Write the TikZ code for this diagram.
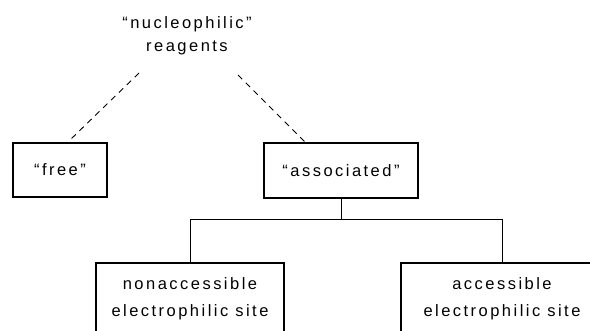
\documentclass[tikz,border=0pt]{standalone}
\usepackage{fontspec}
\setmainfont{Liberation Sans}[LetterSpace=15]
\begin{document}
\begin{tikzpicture}[x=1pt,y=-1pt,
  box/.style={draw, line width=2.1pt, rectangle, inner sep=0pt},
  lbl/.style={font=\fontsize{16.5}{27}\selectfont, align=center, inner sep=0pt},
  conn/.style={line width=0.9pt},
  dconn/.style={line width=0.9pt, dash pattern=on 6pt off 5pt}]
\useasboundingbox (0,0) rectangle (590,330);
\clip (0,0) rectangle (590,330);
\node[lbl, font=\fontsize{16.5}{23}\selectfont] (title) at (187,36) {“nucleophilic”\\reagents};
\node[box, minimum width=94pt, minimum height=54pt] (free) at (60,170) {};
\node[lbl] at (free.center) {“free”};
\node[box, minimum width=154pt, minimum height=55pt] (assoc) at (341,170.5) {};
\node[lbl] at (assoc.center) {“associated”};
\node[box, anchor=north, minimum width=188pt, minimum height=100pt] (nonacc) at (190,262) {};
\node[lbl, anchor=north] at ([yshift=-15pt]nonacc.north) {nonaccessible\\electrophilic site};
\node[box, anchor=north, minimum width=202pt, minimum height=100pt] (acc) at (502,262) {};
\node[lbl, anchor=north] at ([yshift=-15pt]acc.north) {accessible\\electrophilic site};
\coordinate (d1) at (139,73);
\coordinate (d2) at (238,75);
\draw[dconn] (d1) -- ([xshift=8pt]free.north);
\draw[dconn] (d2) -- ([xshift=-36pt]assoc.north);
\draw[conn] (assoc.south) -- ++(0,20) coordinate (j);
\draw[conn] (j) -| (nonacc.north);
\draw[conn] (j) -| (acc.north);
\end{tikzpicture}
\end{document}
